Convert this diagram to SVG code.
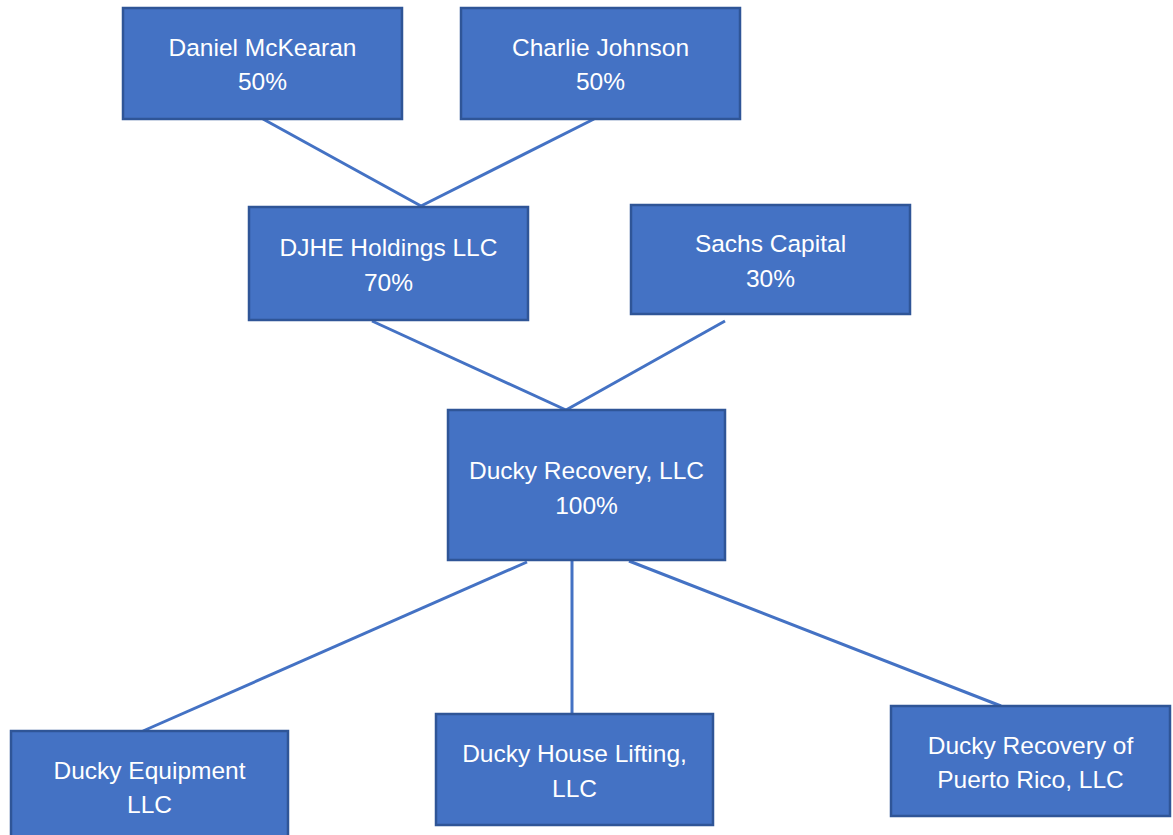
<svg xmlns="http://www.w3.org/2000/svg" width="1173" height="835" viewBox="0 0 1173 835">
<style>
.box{fill:#4472C4;stroke:#2F5597;stroke-width:2.5}
.t{font-family:"Liberation Sans",Arial,sans-serif;font-size:24.5px;fill:#FFFFFF;text-anchor:middle}
.c{stroke:#4472C4;stroke-width:3;fill:none}
</style>
<rect width="1173" height="835" fill="#FFFFFF"/>
<g id="connectors">
<line class="c" x1="263" y1="119" x2="421" y2="206"/>
<line class="c" x1="594" y1="119" x2="421" y2="206"/>
<line class="c" x1="372" y1="321" x2="566" y2="410"/>
<line class="c" x1="725" y1="321" x2="566" y2="410"/>
<line class="c" x1="527" y1="562" x2="143" y2="731"/>
<line class="c" x1="572" y1="561" x2="572" y2="714"/>
<line class="c" x1="629" y1="561" x2="1001" y2="706"/>
</g>
<g id="daniel">
<rect class="box" x="123" y="8" width="279" height="111"/>
<text class="t" x="262.5" y="56">Daniel McKearan</text>
<text class="t" x="262.5" y="90">50%</text>
</g>
<g id="charlie">
<rect class="box" x="461" y="8" width="279" height="111"/>
<text class="t" x="600.5" y="56">Charlie Johnson</text>
<text class="t" x="600.5" y="90">50%</text>
</g>
<g id="djhe">
<rect class="box" x="249" y="207" width="279" height="113"/>
<text class="t" x="388.5" y="256">DJHE Holdings LLC</text>
<text class="t" x="388.5" y="291">70%</text>
</g>
<g id="sachs">
<rect class="box" x="631" y="205" width="279" height="109"/>
<text class="t" x="770.5" y="252">Sachs Capital</text>
<text class="t" x="770.5" y="287">30%</text>
</g>
<g id="recovery">
<rect class="box" x="448" y="410" width="277" height="150"/>
<text class="t" x="586.5" y="479">Ducky Recovery, LLC</text>
<text class="t" x="586.5" y="514">100%</text>
</g>
<g id="equipment">
<rect class="box" x="11" y="731" width="277" height="110"/>
<text class="t" x="149.5" y="779">Ducky Equipment</text>
<text class="t" x="149.5" y="813">LLC</text>
</g>
<g id="houselifting">
<rect class="box" x="436" y="714" width="277" height="111"/>
<text class="t" x="574.5" y="762">Ducky House Lifting,</text>
<text class="t" x="574.5" y="797">LLC</text>
</g>
<g id="puertorico">
<rect class="box" x="891" y="706" width="279" height="110"/>
<text class="t" x="1030.5" y="754">Ducky Recovery of</text>
<text class="t" x="1030.5" y="788">Puerto Rico, LLC</text>
</g>
</svg>
